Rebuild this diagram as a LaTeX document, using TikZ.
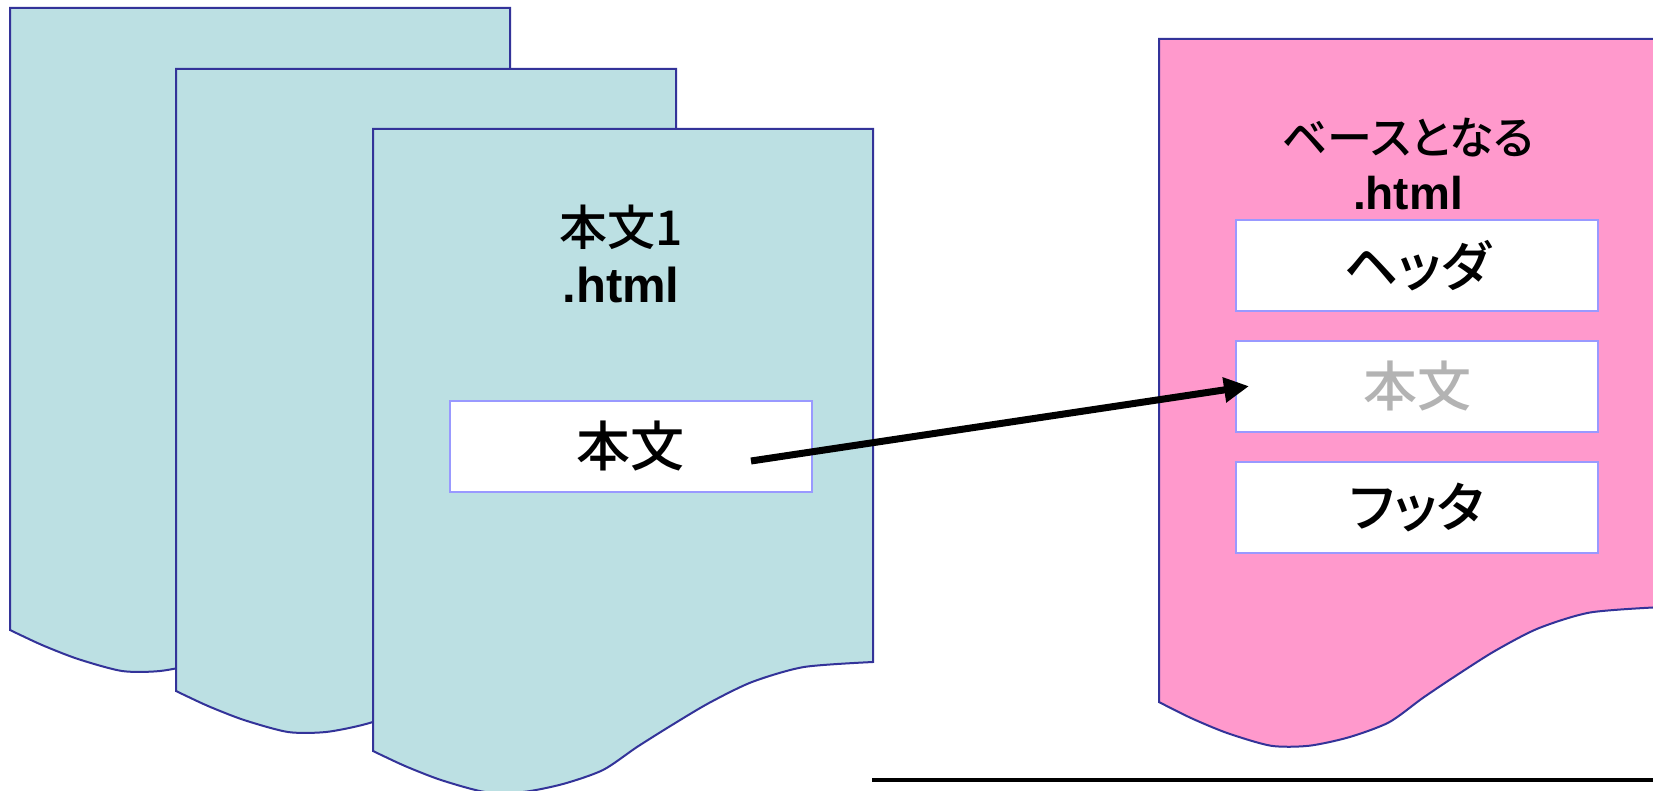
\documentclass[tikz,border=0pt]{standalone}
\usepackage{fontspec}
\setmainfont{Liberation Sans}
\newfontfamily\jp{Noto Sans CJK JP Medium}[RawFeature=+palt]
\usetikzlibrary{arrows.meta}
\definecolor{docblue}{HTML}{BCE0E3}
\definecolor{docpink}{HTML}{FF99CC}
\definecolor{docline}{HTML}{333399}
\definecolor{boxline}{HTML}{9999FF}
\definecolor{dimtext}{HTML}{B3B3B3}
\tikzset{
  docshape/.pic={
    \path[pic actions] (0,0) -- (500,0) --
      plot[smooth,tension=0.45] coordinates {(500,533) (431,538) (379,553) (336,574) (299,596) (264,618) (230,641) (190,655) (150,663) (112,663) (68,651) (32,637) (0,622)} -- cycle;
  },
  docbluestyle/.style={fill=docblue,draw=docline,line width=2pt,line join=miter},
  docpinkstyle/.style={fill=docpink,draw=docline,line width=2pt,line join=miter},
  jptitle/.style={font=\jp\fontsize{48}{52}\selectfont,inner sep=0pt},
  entitle/.style={font=\bfseries\fontsize{49}{52}\selectfont,inner sep=0pt},
  inbox/.style={draw=boxline,fill=white,line width=2pt,minimum width=362pt,minimum height=91pt,inner sep=0pt,font=\jp\fontsize{54}{58}\selectfont},
  bigarrow/.style={line width=7pt,-{Triangle[length=25pt,width=24pt]}},
}
\begin{document}
\begin{tikzpicture}[x=1pt,y=-1pt]
\clip (0,0) rectangle (1653,791);
\fill[white] (0,0) rectangle (1653,791);
% stacked blue documents
\pic[docbluestyle] at (10,8) {docshape};
\pic[docbluestyle] at (176,69) {docshape};
\pic[docbluestyle] at (373,129) {docshape};
\node[jptitle,anchor=base] (t1a) at (621,246) {本文1};
\node[entitle,anchor=base] (t1b) at (621,302) {.html};
\node[inbox] (b1) at (630.5,446.5) {本文};
% pink base document
\pic[docpinkstyle,yscale=1.066] at (1159,39) {docshape};
\node[jptitle,anchor=base,font=\jp\fontsize{45}{48}\selectfont] (t2a) at (1408,155) {ベースとなる};
\node[entitle,anchor=base,font=\bfseries\fontsize{46}{48}\selectfont] (t2b) at (1408,210) {.html};
\node[inbox] (p1) at (1417,265.7) {ヘッダ};
\node[inbox,text=dimtext] (p2) at (1417,386.2) {本文};
\node[inbox] (p3) at (1417,507.2) {フッタ};
% arrow
\coordinate (astart) at (751,461);
\draw[bigarrow] (astart) -- ([xshift=14pt]p2.west);
% bottom rule
\coordinate (rulel) at (872,780);
\coordinate (ruler) at (1653,780);
\draw[line width=4.5pt] (rulel) -- (ruler);
\end{tikzpicture}
\end{document}
